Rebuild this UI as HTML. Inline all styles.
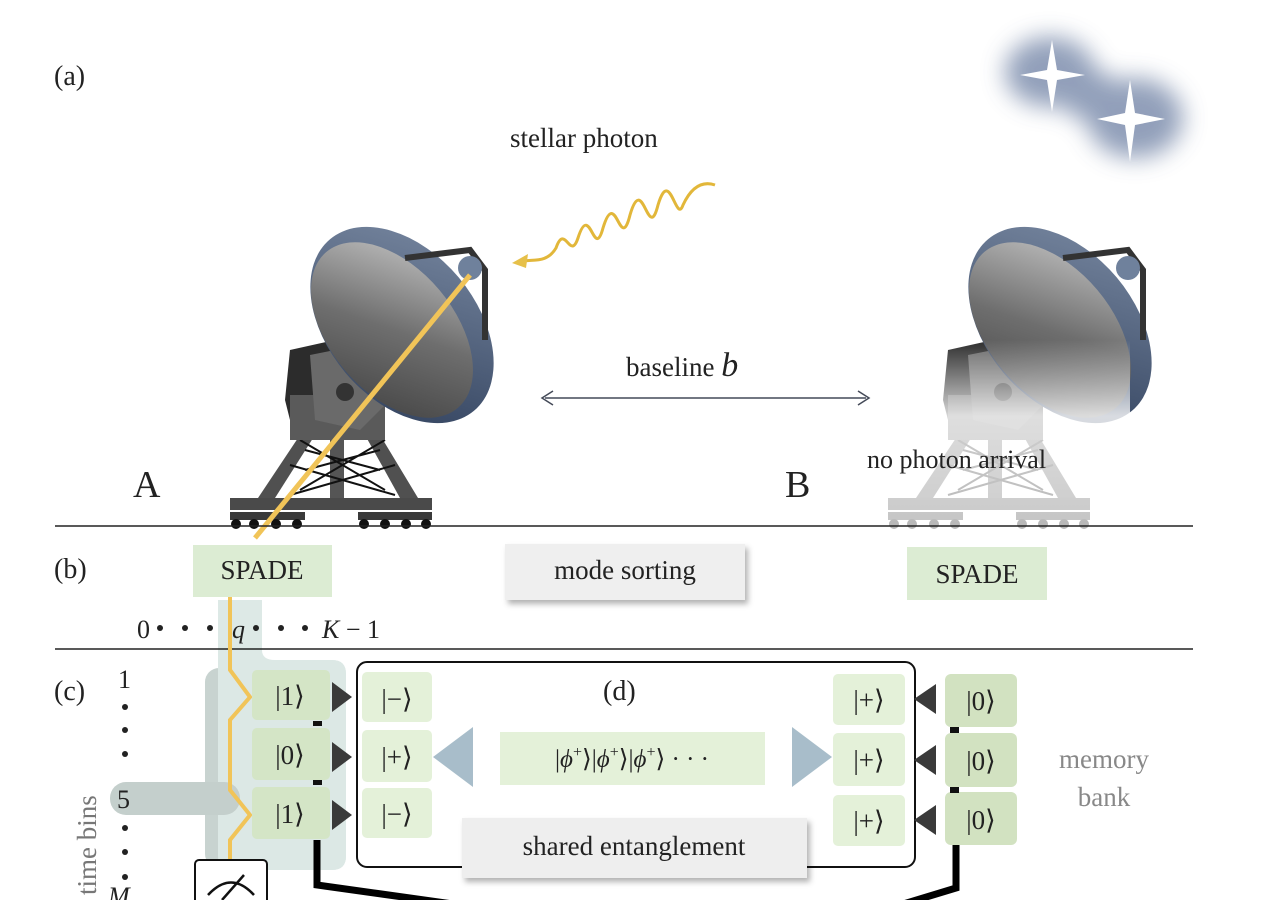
<!DOCTYPE html>
<html><head><meta charset="utf-8"><style>
html,body{margin:0;padding:0;background:#fff}
svg{display:block}
text{font-family:"Liberation Serif","DejaVu Serif",serif;fill:#222}
</style></head><body>
<svg width="1280" height="900" viewBox="0 0 1280 900" xmlns="http://www.w3.org/2000/svg">
<defs>
<linearGradient id="dish" x1="0" y1="0" x2="1" y2="1">
<stop offset="0" stop-color="#c9c9c9"/><stop offset="0.5" stop-color="#6e6e6e"/><stop offset="1" stop-color="#3e3e3e"/></linearGradient>
<linearGradient id="rim" x1="0" y1="0" x2="1" y2="1">
<stop offset="0" stop-color="#7a8aa3"/><stop offset="1" stop-color="#2e3e5a"/></linearGradient>
<linearGradient id="fade" x1="0" y1="0" x2="0" y2="1">
<stop offset="0" stop-color="#fff" stop-opacity="0"/><stop offset="0.4" stop-color="#fff" stop-opacity="0.8"/><stop offset="1" stop-color="#fff" stop-opacity="0.7"/></linearGradient>
<filter id="blur" x="-50%" y="-50%" width="200%" height="200%"><feGaussianBlur stdDeviation="12"/></filter>
<filter id="sh" x="-10%" y="-10%" width="130%" height="140%"><feDropShadow dx="3" dy="4" stdDeviation="3" flood-color="#000" flood-opacity="0.3"/></filter>
<g id="scope">
 <rect x="230" y="498" width="202" height="12" fill="#4a4a4a"/>
 <rect x="230" y="512" width="75" height="8" fill="#3a3a3a"/>
 <rect x="358" y="512" width="74" height="8" fill="#3a3a3a"/>
 <g fill="#111"><circle cx="236" cy="524" r="5"/><circle cx="254" cy="524" r="5"/><circle cx="276" cy="524" r="5"/><circle cx="297" cy="524" r="5"/>
 <circle cx="364" cy="524" r="5"/><circle cx="385" cy="524" r="5"/><circle cx="406" cy="524" r="5"/><circle cx="426" cy="524" r="5"/></g>
 <polygon points="258,498 275,498 315,435 300,435" fill="#505050"/>
 <polygon points="400,498 418,498 380,435 365,435" fill="#505050"/>
 <rect x="330" y="435" width="14" height="63" fill="#555"/>
 <path d="M300,440 L385,490 M300,490 L385,440 M290,465 L395,495 M290,495 L395,465 M305,450 L380,470 M305,470 L380,450" stroke="#111" stroke-width="2" fill="none"/>
 <path d="M290,350 L335,340 L360,380 L340,435 L295,440 L285,400 Z" fill="#2c2c2c"/>
 <rect x="290" y="395" width="95" height="45" fill="#5a5a5a"/>
 <polygon points="310,355 360,345 395,395 360,430 315,420" fill="#6a6a6a"/>
 <circle cx="345" cy="392" r="9" fill="#333"/>
 <ellipse cx="402" cy="325" rx="112" ry="74" transform="rotate(50 402 325)" fill="url(#rim)"/>
 <ellipse cx="392" cy="330" rx="102" ry="62" transform="rotate(50 392 330)" fill="url(#dish)"/>
 <path d="M405,258 L470,250 L485,270 L485,340" stroke="#333" stroke-width="6" fill="none"/>
 <circle cx="470" cy="268" r="12" fill="#6f819c"/>
</g>
</defs>

<g filter="url(#blur)" fill="#7f8fae" opacity="0.85">
<ellipse cx="1050" cy="72" rx="45" ry="35"/><ellipse cx="1135" cy="118" rx="48" ry="40"/><ellipse cx="1090" cy="95" rx="30" ry="25"/>
</g>
<g fill="#fff">
<path d="M1052,40 L1057,70 L1085,75 L1057,80 L1052,112 L1047,80 L1020,75 L1047,70 Z"/>
<path d="M1130,80 L1135,113 L1165,119 L1135,125 L1130,162 L1125,125 L1097,119 L1125,113 Z"/>
</g>

<text x="54" y="85" font-size="28">(a)</text>
<text x="510" y="147" font-size="27">stellar photon</text>

<path d="M715,185 C700,180 690,190 683,205 C676,225 670,165 658,205 C648,245 643,170 630,215 C620,255 616,185 603,228 C594,262 590,200 578,238 C570,262 565,222 556,248 C546,265 530,258 520,262" stroke="#e2b73a" stroke-width="3" fill="none"/>
<polygon points="512,263 528,254 526,268" fill="#e6c04a"/>

<use href="#scope"/>
<line x1="470" y1="275" x2="255" y2="538" stroke="#f1c458" stroke-width="5"/>

<g transform="translate(658,0)"><use href="#scope"/></g>
<rect x="870" y="340" width="260" height="190" fill="url(#fade)"/>

<text x="133" y="497" font-size="38">A</text>
<text x="785" y="497" font-size="38">B</text>
<text x="626" y="376" font-size="27">baseline <tspan font-style="italic" font-size="34">b</tspan></text>
<line x1="545" y1="398" x2="866" y2="398" stroke="#444a58" stroke-width="1.5"/>
<path d="M553,391 L542,398 L553,405 M858,391 L869,398 L858,405" stroke="#444a58" stroke-width="1.5" fill="none"/>
<text x="867" y="468" font-size="26">no photon arrival</text>

<line x1="55" y1="526" x2="1193" y2="526" stroke="#222" stroke-width="1.5"/>

<text x="54" y="578" font-size="28">(b)</text>
<path d="M218,600 L262,600 L262,650 Q262,660 275,660 L332,660 Q346,660 346,674 L346,856 Q346,870 332,870 L232,870 Q218,870 218,856 Z" fill="#dde9e6"/>
<rect x="193" y="545" width="139" height="52" fill="#dcecd3"/>
<text x="262" y="579" font-size="27" text-anchor="middle">SPADE</text>
<rect x="505" y="544" width="240" height="56" fill="#efefef" filter="url(#sh)"/>
<text x="625" y="579" font-size="27" text-anchor="middle">mode sorting</text>
<rect x="907" y="547" width="140" height="53" fill="#dcecd3"/>
<text x="977" y="583" font-size="27" text-anchor="middle">SPADE</text>
<g font-size="26">
<text x="137" y="638">0</text>
<text x="232" y="638" font-style="italic">q</text>
<text x="322" y="638"><tspan font-style="italic">K</tspan> − 1</text>
</g>
<g fill="#222"><circle cx="160" cy="628" r="3"/><circle cx="185" cy="628" r="3"/><circle cx="210" cy="628" r="3"/>
<circle cx="256" cy="628" r="3"/><circle cx="281" cy="628" r="3"/><circle cx="305" cy="628" r="3"/></g>
<line x1="55" y1="649" x2="1193" y2="649" stroke="#222" stroke-width="1.5"/>

<text x="54" y="700" font-size="28">(c)</text>
<rect x="205" y="668" width="115" height="200" rx="14" fill="#c8d3d0"/>
<path d="M218,660 L332,660 Q346,660 346,674 L346,856 Q346,870 332,870 L232,870 Q218,870 218,856 Z" fill="#dce8e5"/>
<rect x="110" y="782" width="130" height="33" rx="16" fill="#c4cfcc"/>
<text x="118" y="688" font-size="26">1</text>
<g fill="#222"><circle cx="125" cy="707" r="3"/><circle cx="125" cy="730" r="3"/><circle cx="125" cy="754" r="3"/><circle cx="125" cy="828" r="3"/><circle cx="125" cy="852" r="3"/><circle cx="125" cy="877" r="3"/></g>
<text x="117" y="808" font-size="26">5</text>
<text x="108" y="905" font-size="26" font-style="italic">M</text>
<text transform="translate(96,895) rotate(-90)" font-size="27" style="fill:#777">time bins</text>

<path d="M230,597 L230,670 L250,697 L230,720 L230,790 L250,815 L230,840 L230,860" stroke="#f1c458" stroke-width="4" fill="none"/>

<g fill="#d4e5c6">
<rect x="252" y="670" width="78" height="50" rx="5"/><rect x="252" y="728" width="78" height="52" rx="5"/><rect x="252" y="787" width="78" height="52" rx="5"/></g>
<g font-size="27" text-anchor="middle"><text x="290" y="705">|1⟩</text><text x="290" y="764">|0⟩</text><text x="290" y="823">|1⟩</text></g>
<g fill="#3a3a3a"><polygon points="332,682 352,697 332,712"/><polygon points="332,742 352,757 332,772"/><polygon points="332,800 352,815 332,830"/></g>
<rect x="313" y="721" width="9" height="5" fill="#111"/><rect x="313" y="780" width="9" height="5" fill="#111"/>

<rect x="357" y="662" width="558" height="205" rx="10" fill="none" stroke="#111" stroke-width="2"/>
<text x="603" y="700" font-size="28">(d)</text>
<g fill="#e4f1d9">
<rect x="362" y="672" width="70" height="50" rx="5"/><rect x="362" y="730" width="70" height="52" rx="5"/><rect x="362" y="788" width="70" height="50" rx="5"/>
<rect x="833" y="674" width="72" height="51" rx="5"/><rect x="833" y="733" width="72" height="53" rx="5"/><rect x="833" y="795" width="72" height="51" rx="5"/>
<rect x="500" y="732" width="265" height="53"/></g>
<g font-size="27" text-anchor="middle"><text x="397" y="708">|−⟩</text><text x="397" y="766">|+⟩</text><text x="397" y="823">|−⟩</text>
<text x="869" y="709">|+⟩</text><text x="869" y="769">|+⟩</text><text x="869" y="830">|+⟩</text>
<text x="632" y="767" font-size="25">|<tspan font-style="italic">ϕ</tspan><tspan font-size="16" dy="-10">+</tspan><tspan dy="10">⟩|</tspan><tspan font-style="italic">ϕ</tspan><tspan font-size="16" dy="-10">+</tspan><tspan dy="10">⟩|</tspan><tspan font-style="italic">ϕ</tspan><tspan font-size="16" dy="-10">+</tspan><tspan dy="10">⟩ ·  ·  ·</tspan></text></g>
<g fill="#a8bdca"><polygon points="433,757 473,727 473,787"/><polygon points="832,757 792,727 792,787"/></g>
<rect x="462" y="818" width="345" height="60" fill="#eeeeee" filter="url(#sh)"/>
<text x="634" y="855" font-size="27" text-anchor="middle">shared entanglement</text>

<g fill="#3a3a3a"><polygon points="936,684 914,699 936,714"/><polygon points="936,745 914,760 936,775"/><polygon points="936,805 914,820 936,835"/></g>
<g fill="#d2e2c1"><rect x="945" y="674" width="72" height="53" rx="6"/><rect x="945" y="733" width="72" height="54" rx="6"/><rect x="945" y="792" width="72" height="53" rx="6"/></g>
<g font-size="27" text-anchor="middle"><text x="981" y="710">|0⟩</text><text x="981" y="770">|0⟩</text><text x="981" y="829">|0⟩</text></g>
<rect x="950" y="727" width="9" height="6" fill="#111"/><rect x="950" y="787" width="9" height="6" fill="#111"/>
<text x="1104" y="768" font-size="27" text-anchor="middle" style="fill:#888">memory</text>
<text x="1104" y="806" font-size="27" text-anchor="middle" style="fill:#888">bank</text>

<path d="M317,840 L317,885 L460,905" stroke="#000" stroke-width="7" fill="none"/>
<path d="M956,845 L956,888 L900,905" stroke="#000" stroke-width="7" fill="none"/>

<rect x="195" y="860" width="72" height="50" rx="4" fill="#fff" stroke="#111" stroke-width="2"/>
<path d="M208,895 Q231,870 254,895" stroke="#111" stroke-width="2.5" fill="none"/>
<line x1="222" y1="900" x2="244" y2="875" stroke="#111" stroke-width="2.5"/>
</svg>
</body></html>
